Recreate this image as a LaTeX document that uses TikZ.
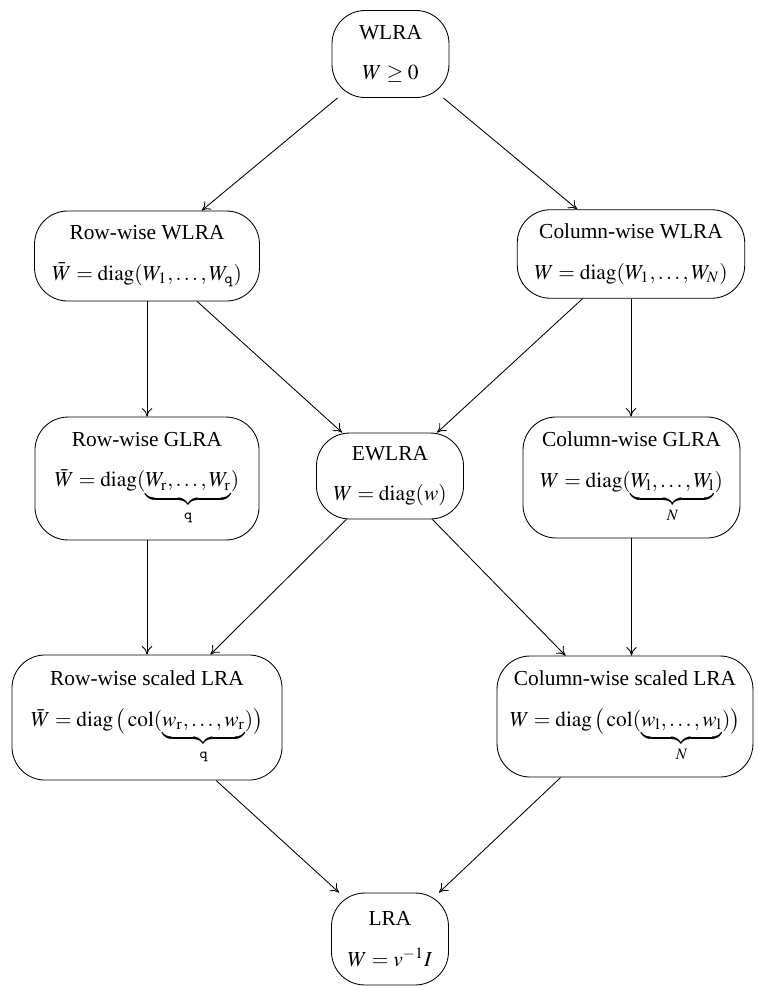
\documentclass[tikz,border=0pt]{standalone}
\usepackage{amsmath}
\usepackage{mathptmx}
\usepackage[no-math]{fontspec}
\setmainfont{Liberation Serif}
\usetikzlibrary{arrows.meta}
\begin{document}
\begin{tikzpicture}[x=0.4677pt,y=-0.4677pt,
  box/.style={draw, rounded corners=15.5pt, align=center, inner sep=0pt, line width=0.4pt},
  arr/.style={-{To[length=4pt,width=5pt]}, line width=0.4pt}]
\useasboundingbox (0,0) rectangle (758,986);
\node[box, minimum width=54.7pt, minimum height=40.7pt] (wlra) at (390.5,54)
  {WLRA\\[7pt]$W\geq 0$};
\node[box, minimum width=105.2pt, minimum height=42.1pt] (rw) at (147,256)
  {Row-wise WLRA\\[7pt]$\bar W=\operatorname{diag}(W_1,\dots,W_{\mathtt q})$};
\node[box, minimum width=106.4pt, minimum height=41.4pt] (cw) at (631,254)
  {Column-wise WLRA\\[7pt]$W=\operatorname{diag}(W_1,\dots,W_N)$};
\node[box, minimum width=104.8pt, minimum height=57.5pt] (rg) at (147,478.5)
  {Row-wise GLRA\\[7pt]$\bar W=\operatorname{diag}(\underbrace{W_{\mathrm r},\dots,W_{\mathrm r}}_{\mathtt q})$};
\node[box, minimum width=68.8pt, minimum height=40.2pt] (ew) at (390,476)
  {EWLRA\\[7pt]$W=\operatorname{diag}(w)$};
\node[box, minimum width=101.5pt, minimum height=56.6pt] (cg) at (631.5,477.5)
  {Column-wise GLRA\\[7pt]$W=\operatorname{diag}(\underbrace{W_{\mathrm l},\dots,W_{\mathrm l}}_{N})$};
\node[box, minimum width=126.3pt, minimum height=58.5pt] (rs) at (147,717.5)
  {Row-wise scaled LRA\\[7pt]$\bar W=\operatorname{diag}\,\bigl(\,\operatorname{col}(\underbrace{w_{\mathrm r},\dots,w_{\mathrm r}}_{\mathtt q})\bigr)$};
\node[box, minimum width=119.7pt, minimum height=56.6pt] (cs) at (625,716.5)
  {Column-wise scaled LRA\\[7pt]$W=\operatorname{diag}\,\bigl(\,\operatorname{col}(\underbrace{w_{\mathrm l},\dots,w_{\mathrm l}}_{N})\bigr)$};
\node[box, minimum width=54.7pt, minimum height=43pt] (lra) at (390,939)
  {LRA\\[7pt]$W=v^{-1}I$};
\draw[arr] (wlra) -- (rw);
\draw[arr] (wlra) -- (cw);
\draw[arr] (rw) -- (rg);
\draw[arr] (rw) -- (ew);
\draw[arr] (cw) -- (ew);
\draw[arr] (cw.south) -- (cw.south |- cg.north);
\draw[arr] (rg) -- (rs);
\draw[arr] (ew) -- (rs);
\draw[arr] (ew) -- (cs);
\draw[arr] (cg.south) -- (cg.south |- cs.north);
\draw[arr] (rs) -- (lra);
\draw[arr] (cs) -- (lra);
\end{tikzpicture}
\end{document}
